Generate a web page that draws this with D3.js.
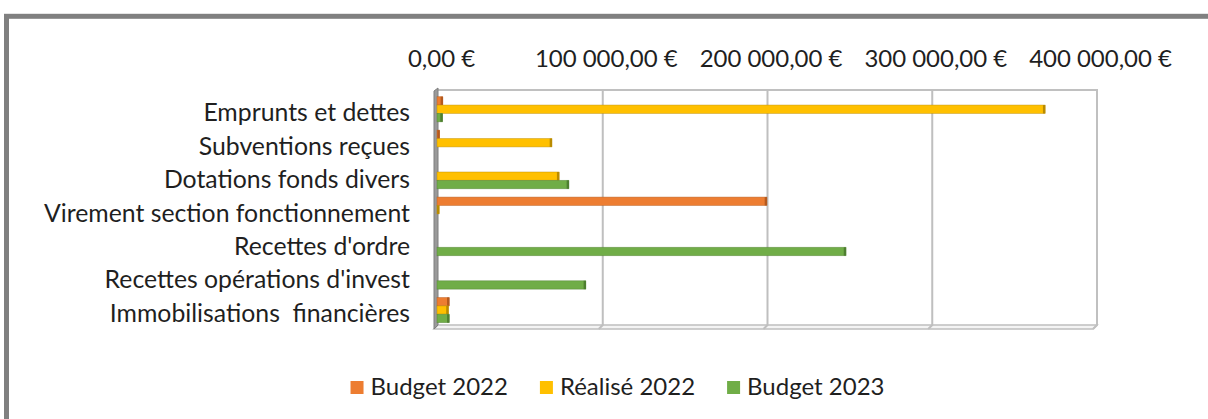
<!DOCTYPE html>
<html>
<head>
<meta charset="utf-8">
<script src="https://cdn.jsdelivr.net/npm/d3@7"></script>
<style>
    body { margin: 0; background: #ffffff; }
    .chart-one text { font-family: Lato, "Open Sans", sans-serif; fill: #1f1f1f; }
</style>
</head>
<body>
<div class="chart-one"></div>
<script>
const categoryList = [
    "Emprunts et dettes",
    "Subventions reçues",
    "Dotations fonds divers",
    "Virement section fonctionnement",
    "Recettes d'ordre",
    "Recettes opérations d'invest",
    "Immobilisations  financières"
];
const seriesList = ["Budget 2022", "Réalisé 2022", "Budget 2023"];
const budget2022 = [2800, 800, 0, 199500, 0, 0, 6700];
const realise2022 = [368400, 69000, 73400, 600, 0, 0, 6200];
const budget2023 = [2600, 0, 79300, 0, 247500, 89600, 6700];
const tickList = [0, 100000, 200000, 300000, 400000];
const colorList = ["#ED7D31", "#FFC000", "#70AD47"];
const edgeColorList = ["#B45A1E", "#B98B00", "#4E7F30"];

function barChartGenerator(width, height) {
    const configuration = {
        width: width,
        height: height,
        plot: { left: 438, right: 1097, top: 90, bottom: 325 },
        band: { top: 92.5, bottom: 326.8 },
        font_size: 24,
        label_size: 24.8,
        depth: 4
    };

    const valueList = categoryList.map((name, i) => ({
        name: name,
        values: [budget2022[i], realise2022[i], budget2023[i]]
    }));

    let scale_x = d3.scaleLinear()
        .domain([0, 400000])
        .range([configuration.plot.left, configuration.plot.right]);

    let scale_y = d3.scaleBand()
        .domain(categoryList)
        .range([configuration.band.top, configuration.band.bottom])
        .paddingInner(0.25)
        .paddingOuter(0.125);

    let scale_series = d3.scaleBand()
        .domain(d3.range(seriesList.length))
        .range([0, scale_y.bandwidth()]);

    const euro = d3.formatLocale({
        decimal: ",",
        thousands: "\u202F",
        grouping: [3],
        currency: ["", "\u202F€"]
    }).format("$,.2f");

    let svg = d3.select(".chart-one")
        .append("svg")
        .attr("width", configuration.width)
        .attr("height", configuration.height);

    // outer frame, cut by the window on the right and bottom
    svg
        .append("rect")
        .attr("x", 6.5)
        .attr("y", 16.3)
        .attr("width", 1300)
        .attr("height", 500)
        .attr("fill", "none")
        .attr("stroke", "#808080")
        .attr("stroke-width", 5);

    const p = configuration.plot;
    const dp = configuration.depth;

    // floor
    svg
        .append("path")
        .attr("d", `M${p.left},${p.bottom} L${p.right},${p.bottom} L${p.right - dp},${p.bottom + dp} L${p.left - dp},${p.bottom + dp} Z`)
        .attr("fill", "#f4f4f4")
        .attr("stroke", "#bfbfbf")
        .attr("stroke-width", 1.5);

    // back wall frame
    svg
        .append("path")
        .attr("d", `M${p.left},${p.top} L${p.right},${p.top} L${p.right},${p.bottom} L${p.right - dp},${p.bottom + dp}`)
        .attr("fill", "none")
        .attr("stroke", "#c0c0c0")
        .attr("stroke-width", 2);

    // gridlines
    svg
        .append("g")
        .selectAll("path")
        .data(tickList.slice(1, -1))
        .join("path")
        .attr("d", (d) => `M${scale_x(d)},${p.top} L${scale_x(d)},${p.bottom} L${scale_x(d) - dp},${p.bottom + dp}`)
        .attr("fill", "none")
        .attr("stroke", "#bfbfbf")
        .attr("stroke-width", 2);

    // left wall
    svg
        .append("path")
        .attr("d", `M${p.left - dp},${p.top + 1} L${p.left},${p.top - 2} L${p.left},${p.bottom} L${p.left - dp},${p.bottom + dp} Z`)
        .attr("fill", "#9a9a9a")
        .attr("stroke", "#7f7f7f")
        .attr("stroke-width", 1);

    // bars
    let group = svg
        .append("g")
        .selectAll(".bar-group")
        .data(valueList)
        .join("g")
        .attr("class", "bar-group")
        .attr("transform", (d) => `translate(0, ${scale_y(d.name)})`);

    let bar = group
        .selectAll(".bar")
        .data((d) => d.values.map((v, i) => ({ value: v, series: i })).filter((b) => b.value > 0))
        .join("g")
        .attr("class", "bar");

    bar
        .append("rect")
        .attr("x", scale_x(0) - 1)
        .attr("y", (d) => scale_series(d.series))
        .attr("width", (d) => scale_x(d.value) - scale_x(0) + 1)
        .attr("height", scale_series.bandwidth())
        .attr("fill", (d) => colorList[d.series])
        .attr("stroke", (d) => edgeColorList[d.series])
        .attr("stroke-opacity", 0.55)
        .attr("stroke-width", 0.8);

    bar
        .append("rect")
        .attr("x", (d) => scale_x(d.value) - 2)
        .attr("y", (d) => scale_series(d.series))
        .attr("width", 2.5)
        .attr("height", scale_series.bandwidth())
        .attr("fill", (d) => edgeColorList[d.series]);

    // value axis on top
    let axisX = svg
        .append("g")
        .attr("transform", "translate(3, 67)")
        .call(d3.axisTop(scale_x).tickValues(tickList).tickFormat(euro).tickSize(0).tickPadding(0));

    axisX.select(".domain").remove();
    axisX.selectAll("text")
        .attr("font-size", configuration.font_size)
        .attr("dy", "0em");

    // category axis
    let axisY = svg
        .append("g")
        .attr("transform", "translate(412, 0)")
        .call(d3.axisLeft(scale_y).tickSize(0).tickPadding(2));

    axisY.select(".domain").remove();
    axisY.selectAll("text")
        .attr("font-size", configuration.label_size)
        .attr("dy", "0.48em")
        .style("white-space", "pre");

    // legend
    let legend = svg
        .append("g")
        .attr("class", "legend");

    let legendItem = legend
        .selectAll(".legend-item")
        .data(seriesList)
        .join("g")
        .attr("class", "legend-item");

    legendItem
        .append("rect")
        .attr("width", 13)
        .attr("height", 13)
        .attr("y", 381)
        .attr("fill", (d, i) => colorList[i]);

    legendItem
        .append("text")
        .text((d) => d)
        .attr("x", 20)
        .attr("y", 395)
        .attr("font-size", configuration.font_size);

    let cursor = 0;
    const offsets = [];
    legendItem.each(function () {
        offsets.push(cursor);
        cursor += 20 + this.querySelector("text").getComputedTextLength() + 32;
    });
    const legendWidth = cursor - 32;
    const legendStart = 617.5 - legendWidth / 2;
    legendItem.attr("transform", (d, i) => `translate(${legendStart + offsets[i]}, 0)`);
}

barChartGenerator(1208, 419);
</script>
</body>
</html>
